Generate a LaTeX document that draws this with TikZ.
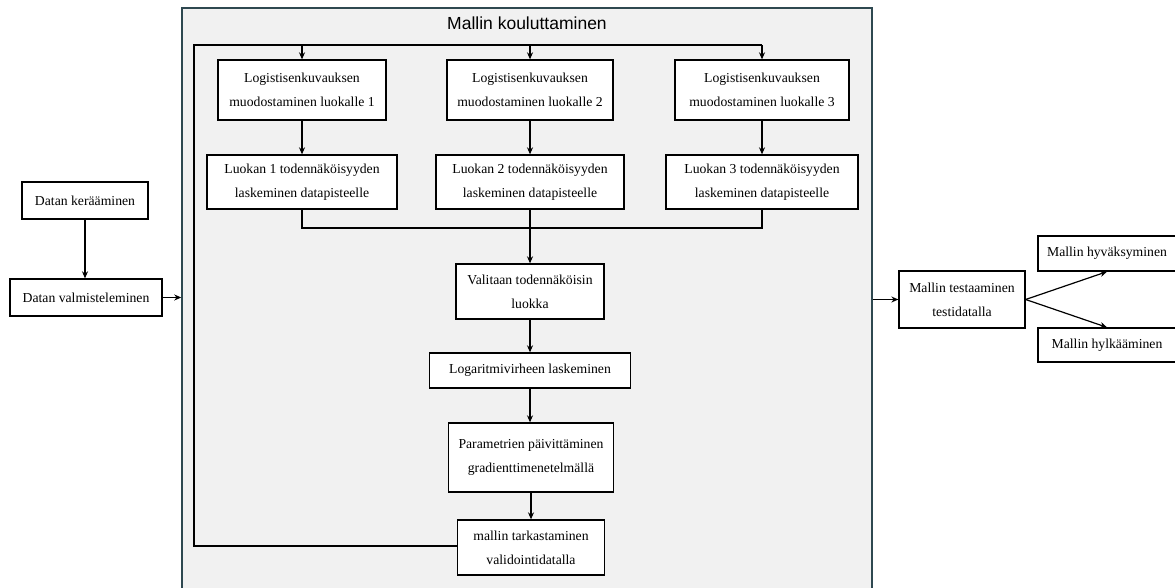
\documentclass[tikz,border=0pt]{standalone}
\usepackage{fontspec}
\setmainfont{Liberation Serif}
\newfontfamily\titlefont{Liberation Sans}
\usetikzlibrary{arrows.meta}
\definecolor{outerfill}{HTML}{F1F1F1}
\definecolor{outerline}{HTML}{2E4850}
\tikzset{
  box/.style={draw=black, line width=1.3pt, fill=white, inner sep=2pt, align=center,
    font=\fontsize{13.7}{24}\selectfont},
  conn/.style={line width=1.2pt, draw=black},
  arr/.style={conn, -{Stealth[length=7pt,width=6pt]}},
}
\begin{document}
\begin{tikzpicture}[x=1pt,y=-1pt]
\useasboundingbox (0,0) rectangle (1175,588);
% outer frame
\node[draw=outerline, line width=1.5pt, fill=outerfill, minimum width=690pt, minimum height=600pt, inner sep=0pt] (outer) at (527,308) {};
\node[font=\titlefont\fontsize{17.5}{20}\selectfont] (title) at (527,23) {Mallin kouluttaminen};

% left side
\node[box, minimum width=126pt, minimum height=37pt] (k1) at (85,200.5) {Datan kerääminen};
\node[box, minimum width=152pt, minimum height=37pt] (v1) at (86,297.5) {Datan valmisteleminen};

% row 1
\node[box, minimum width=168pt, minimum height=60pt] (L1) at (302,90) {Logistisenkuvauksen\\muodostaminen luokalle 1};
\node[box, minimum width=166pt, minimum height=60pt] (L2) at (530,90) {Logistisenkuvauksen\\muodostaminen luokalle 2};
\node[box, minimum width=174pt, minimum height=60pt] (L3) at (762,90) {Logistisenkuvauksen\\muodostaminen luokalle 3};

% row 2
\node[box, minimum width=190pt, minimum height=54pt] (P1) at (302,182) {Luokan 1 todennäköisyyden\\laskeminen datapisteelle};
\node[box, minimum width=188pt, minimum height=54pt] (P2) at (530,182) {Luokan 2 todennäköisyyden\\laskeminen datapisteelle};
\node[box, minimum width=192pt, minimum height=54pt] (P3) at (762,182) {Luokan 3 todennäköisyyden\\laskeminen datapisteelle};

% middle column
\node[box, minimum width=148pt, minimum height=55pt] (V) at (530,291.5) {Valitaan todennäköisin\\luokka};
\node[box, minimum width=201pt, minimum height=35pt] (Lg) at (530,370.5) {Logaritmivirheen laskeminen};
\node[box, minimum width=165pt, minimum height=69pt] (Pa) at (531,457.5) {Parametrien päivittäminen\\gradienttimenetelmällä};
\node[box, minimum width=147pt, minimum height=55pt] (M) at (531,547.5) {mallin tarkastaminen\\validointidatalla};

% right side
\node[box, minimum width=126pt, minimum height=57pt] (T) at (962,299.5) {Mallin testaaminen\\testidatalla};
\node[box, minimum width=138pt, minimum height=35pt] (H) at (1107,253.5) {Mallin hyväksyminen};
\node[box, minimum width=138pt, minimum height=34pt] (R) at (1107,345) {Mallin hylkääminen};

\coordinate (topL) at (194,45);
\coordinate (topR) at (762,45);
\coordinate (botL) at (194,546);
\coordinate (join) at (530,228);

% connectors
\draw[arr] (k1.south) -- (k1.south |- v1.north);
\draw[arr] (v1.east) -- (v1.east -| outer.west);
\draw[arr] (T.west -| outer.east) -- (T.west);
\draw[arr] (T.east) -- (H.south);
\draw[arr] (T.east) -- (R.north);

\draw[conn] (M.west |- botL) -- (botL) -- (topL) -- (topR);
\draw[arr] (L1.north |- topL) -- (L1.north);
\draw[arr] (L2.north |- topL) -- (L2.north);
\draw[arr] (topR) -- (L3.north);

\draw[arr] (L1) -- (P1);
\draw[arr] (L2) -- (P2);
\draw[arr] (L3) -- (P3);

\draw[conn] (P1.south) -- (P1.south |- join) -- (P3.south |- join) -- (P3.south);
\draw[arr] (P2.south) -- (V.north -| P2.south);
\draw[arr] (V) -- (V.south |- Lg.north);
\draw[arr] (Lg) -- (Lg.south |- Pa.north);
\draw[arr] (Pa) -- (Pa.south |- M.north);
\end{tikzpicture}
\end{document}
